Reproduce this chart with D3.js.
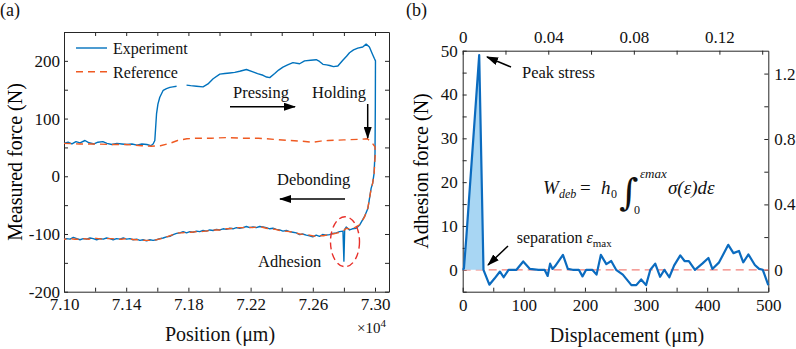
<!DOCTYPE html>
<html lang="en">
<head>
<meta charset="UTF-8">
<title>Measured force and adhesion force</title>
<script src="https://d3js.org/d3.v7.min.js"></script>
<style>
  body { margin: 0; background: #fff; }
  .axis path, .axis line { stroke: #262626; stroke-width: 1; }
  .axis text { font-family: "Liberation Serif", "Times New Roman", serif; font-size: 17px; fill: #111; }
</style>
</head>
<body>
<div id="chart"></div>
<script>

// ---- panel (a) data : position (um) vs measured force (N) ----
// experiment: pressing left->right, drop at max position, debonding right->left
const expPos = [71000, 71026, 71051, 71077, 71103, 71135, 71161, 71193, 71218, 71250, 71276, 71308, 71340, 71372,
  71404, 71437, 71469, 71501, 71533, 71558, 71573, 71584, 71595, 71604, 71616, 71638, 71659, 71681, 71700, 71724,
  71750, 71788, 71815, 71852, 71894, 71926, 71959, 72002, 72034, 72066, 72098, 72130, 72173, 72215, 72245, 72280,
  72303, 72323, 72355, 72380, 72408, 72438, 72472, 72515, 72547, 72586, 72622, 72643, 72665, 72688, 72708, 72733,
  72761, 72793, 72817, 72836, 72862, 72889, 72921, 72943, 72964, 72983, 72996, 73003,
  73002, 73000, 72994, 72985, 72975, 72954, 72932, 72900, 72879, 72855, 72836, 72815, 72805, 72800, 72794, 72772,
  72751, 72729, 72708, 72686, 72663, 72643, 72622, 72600, 72579, 72558, 72534, 72515, 72494, 72472, 72451, 72430,
  72408, 72387, 72366, 72344, 72323, 72301, 72280, 72258, 72237, 72215, 72194, 72173, 72151, 72130, 72109, 72087,
  72066, 72045, 72023, 72002, 71980, 71959, 71937, 71916, 71894, 71873, 71852, 71830, 71809, 71788, 71766, 71745,
  71724, 71702, 71681, 71659, 71638, 71616, 71595, 71573, 71552, 71531, 71509, 71488, 71467, 71445, 71424, 71403,
  71381, 71360, 71338, 71316, 71295, 71274, 71252, 71231, 71210, 71188, 71167, 71146, 71124, 71103, 71082, 71060,
  71039, 71017, 71000];
const expForce = [57, 59, 56, 60, 58, 62, 58, 56, 59, 60, 57, 55, 57, 56,
  55, 56, 54, 56, 55, 53, 56, 62, 108, 125, 137, 149, 152, 154, 155, 156,
  null, 158, 157, 156, 155, 160, 169, 177, 178, 179, 180, 182, 185, 181, 178, 175,
  172, 171, 178, 184, 189, 193, 197, 195, 200, 201, 202, 199, 194, 193, 192, 190,
  191, 201, 208, 214, 219, 222, 224, 229, 224, 212, 204, 200,
  120, 40, 5, -12, -21, -56, -70, -85, -90, -91, -93, -88, -92, -147, -95, -96,
  -98, -99, -101, -102, -101, -104, -102, -105, -103, -102, -100, -101, -98, -97, -96, -94,
  -95, -93, -92, -90, -91, -89, -88, -87, -89, -88, -89, -87, -89, -90, -89, -91,
  -90, -92, -91, -93, -92, -94, -93, -95, -94, -96, -95, -97, -96, -98, -96, -98,
  -99, -101, -104, -105, -107, -108, -110, -111, -110, -112, -110, -111, -109, -110, -108, -109,
  -107, -109, -108, -110, -108, -107, -109, -108, -110, -108, -107, -109, -108, -110, -108, -106,
  -109, -108, -109];

// reference curve (dashed)
const refPos = [71000, 71100, 71200, 71300, 71400, 71500, 71560, 71620, 71680, 71730, 71790, 71850, 71950, 72050,
  72150, 72250, 72350, 72450, 72520, 72600, 72650, 72700, 72800, 72900, 72950, 72975, 73000,
  73002, 72994, 72985, 72975, 72954, 72932, 72900, 72875, 72850, 72815, 72790, 72760, 72729, 72700, 72670, 72640,
  72610, 72580, 72550, 72515, 72480, 72450, 72420, 72390, 72360, 72330, 72300, 72270, 72240, 72210, 72180, 72150,
  72120, 72090, 72060, 72030, 72000, 71970, 71940, 71910, 71880, 71850, 71820, 71790, 71760, 71730, 71700, 71670,
  71640, 71610, 71580, 71550, 71520, 71490, 71460, 71430, 71400, 71370, 71340, 71310, 71280, 71250, 71220, 71190,
  71160, 71130, 71100, 71070, 71040, 71000];
const refForce = [57, 56, 56, 55, 55, 53, 52, 53, 57, 62, 65, 66, 66, 67,
  66, 66, 64, 62, 61, 59, 61, 62, 63, 64, 65, 60, 51,
  40, 4, -12, -22, -55, -71, -84, -88, -92, -90, -96, -98, -100, -101, -103, -103,
  -104, -102, -101, -100, -97, -96, -95, -94, -92, -91, -90, -88, -88, -89, -88, -89,
  -89, -90, -91, -91, -93, -93, -94, -95, -96, -96, -97, -97, -98, -98, -101, -104,
  -107, -109, -111, -111, -111, -110, -110, -109, -108, -109, -109, -108, -108, -109, -108, -107,
  -109, -108, -109, -109, -108, -109];

const xTicksA = d3.range(71000, 73001, 200);
const yTicksA = d3.range(-200, 251, 50);

// ---- panel (b) data : displacement (um) vs adhesion force (N) ----
const dispB = [0, 2, 6, 27, 34, 43.6, 52, 61, 67, 75, 88, 99, 110, 124, 134, 139, 143, 147, 151, 164, 172, 180, 190,
  196, 202, 212, 219, 226, 235, 243, 251, 262, 276, 284, 292, 300, 307, 315, 323, 330, 338, 346, 356, 363, 370, 380,
  392, 402, 408.5, 419.5, 434.5, 443, 452, 459, 467.5, 478, 485, 491, 500];
const forceB = [0, 0.3, 7.5, 49, 0, -3.4, -2, -0.4, -1.7, 0, 0, 1.9, 0.2, 0, 0, -1.4, 1.4, 0.2, 0.8, 3.4, 0.2, 0, 0,
  -1.5, 0, 0, -1.1, 3.4, 1.3, 2, 0, -1.1, -3.5, -3.5, -2.2, -3.5, 0, 1.4, -1.6, 0, -1.7, 1, 3.3, 2, 2, 0,
  1.4, 2.7, 0.2, 1.7, 5.7, 3.8, 4.3, 1.7, 3.5, 1.1, 0.2, 0, -3.5];
const sepDisp = 34;          // separation point, end of shaded work area
const h0 = 3500;             // um, strain = displacement / h0
const stressScale = 0.0268;  // right axis (stress) per newton

const xTicksB = d3.range(0, 501, 50);
const yTicksB = d3.range(-5, 51, 5);
const topTicksB = [0, 0.02, 0.04, 0.06, 0.08, 0.1, 0.12, 0.14];
const rightTicksB = [0, 0.2, 0.4, 0.6, 0.8, 1.0, 1.2];

const FONT = '"Liberation Serif", "Times New Roman", serif';

const svg = d3.select("#chart").append("svg")
  .attr("width", 796)
  .attr("height", 349)
  .attr("font-family", FONT);

svg.append("rect").attr("width", 796).attr("height", 349).attr("fill", "#fff");

const defs = svg.append("defs");
defs.append("marker")
  .attr("id", "head")
  .attr("viewBox", "0 0 12 8")
  .attr("refX", 11).attr("refY", 4)
  .attr("markerWidth", 12).attr("markerHeight", 8)
  .attr("markerUnits", "userSpaceOnUse")
  .attr("orient", "auto")
  .append("path").attr("d", "M0,0 L12,4 L0,8 Z").attr("fill", "#000");

const TICK = 4;

// draws a full box with inward ticks on all four sides
function boxAxes(x, y, xt, yt, opt) {
  const [x0, x1] = x.range();
  const [y0, y1] = y.range();
  svg.append("g").attr("class", "axis")
    .attr("transform", `translate(0,${y0})`)
    .call(d3.axisBottom(x).tickValues(xt).tickSize(-TICK).tickSizeOuter(0)
      .tickPadding(opt.xPad).tickFormat(opt.xFmt));
  svg.append("g").attr("class", "axis")
    .attr("transform", `translate(${x0},0)`)
    .call(d3.axisLeft(y).tickValues(yt).tickSize(-TICK).tickSizeOuter(0)
      .tickPadding(opt.yPad).tickFormat(opt.yFmt));
  if (opt.top) {
    svg.append("g").attr("class", "axis")
      .attr("transform", `translate(0,${y1})`)
      .call(d3.axisTop(opt.top.scale).tickValues(opt.top.ticks).tickSize(-TICK).tickSizeOuter(0)
        .tickPadding(8).tickFormat(opt.top.fmt));
  } else {
    svg.append("g").attr("class", "axis")
      .attr("transform", `translate(0,${y1})`)
      .call(d3.axisTop(x).tickValues(xt).tickSize(-TICK).tickSizeOuter(0).tickFormat(""));
  }
  if (opt.right) {
    svg.append("g").attr("class", "axis")
      .attr("transform", `translate(${x1},0)`)
      .call(d3.axisRight(opt.right.scale).tickValues(opt.right.ticks).tickSize(-TICK).tickSizeOuter(0)
        .tickPadding(6).tickFormat(opt.right.fmt));
  } else {
    svg.append("g").attr("class", "axis")
      .attr("transform", `translate(${x1},0)`)
      .call(d3.axisRight(y).tickValues(yt).tickSize(-TICK).tickSizeOuter(0).tickFormat(""));
  }
}

function label(x, y, txt, size, anchor) {
  return svg.append("text")
    .attr("x", x).attr("y", y)
    .attr("font-family", FONT)
    .attr("text-anchor", anchor || "start")
    .attr("fill", "#111")
    .style("font-size", size + "px")
    .text(txt);
}

function arrow(x1, y1, x2, y2) {
  svg.append("line")
    .attr("x1", x1).attr("y1", y1).attr("x2", x2).attr("y2", y2)
    .attr("stroke", "#000").attr("stroke-width", 1.5)
    .attr("marker-end", "url(#head)");
}

// ================= panel (a) =================
const xA = d3.scaleLinear().domain([71000, 73090]).range([64, 389]);
const yA = d3.scaleLinear().domain([-200, 250]).range([291.7, 32]);

boxAxes(xA, yA, xTicksA, yTicksA, {
  xPad: 6, yPad: 4,
  xFmt: d => (d - 71000) % 400 === 0 ? (d / 1e4).toFixed(2) : "",
  yFmt: d => d % 100 === 0 ? d : ""
});

const lineA = d3.line()
  .defined(d => d[1] !== null)
  .x(d => xA(d[0]))
  .y(d => yA(d[1]));

svg.append("path")
  .datum(expPos.map((p, i) => [p, expForce[i]]))
  .attr("d", lineA)
  .attr("fill", "none")
  .attr("stroke", "#0072BD")
  .attr("stroke-width", 1.4)
  .attr("stroke-linejoin", "round");

svg.append("path")
  .datum(refPos.map((p, i) => [p, refForce[i]]))
  .attr("d", lineA)
  .attr("fill", "none")
  .attr("stroke", "#EF5A22")
  .attr("stroke-width", 1.4)
  .attr("stroke-dasharray", "7,5");

// legend
svg.append("line").attr("x1", 76).attr("x2", 107).attr("y1", 48).attr("y2", 48)
  .attr("stroke", "#0072BD").attr("stroke-width", 1.4);
svg.append("line").attr("x1", 76).attr("x2", 107).attr("y1", 71.7).attr("y2", 71.7)
  .attr("stroke", "#EF5A22").attr("stroke-width", 1.4).attr("stroke-dasharray", "7,5");
label(113, 53.5, "Experiment", 16);
label(113, 77.5, "Reference", 16);

// annotations
label(233, 97.5, "Pressing", 16.5);
arrow(230, 106.7, 295, 106.7);
label(312, 97.5, "Holding", 16.5);
arrow(367.7, 104, 367.7, 138);
label(277, 184.5, "Debonding", 16.5);
arrow(345, 199, 280, 199);
label(258, 266.5, "Adhesion", 16.5);
svg.append("ellipse")
  .attr("cx", 345).attr("cy", 241.7).attr("rx", 14.5).attr("ry", 25)
  .attr("fill", "none").attr("stroke", "#E8302A").attr("stroke-width", 1.4)
  .attr("stroke-dasharray", "7,4");

// axis titles
label(220, 340.5, "Position (\u03bcm)", 20, "middle");
svg.append("text")
  .attr("transform", "translate(22,162) rotate(-90)")
  .attr("font-family", FONT)
  .attr("text-anchor", "middle")
  .style("font-size", "20px")
  .text("Measured force (N)");
const ex = label(357, 333, "\u00d710", 15);
ex.append("tspan").attr("dy", -6).style("font-size", "11px").text("4");
label(0, 16, "(a)", 18);

// ================= panel (b) =================
const xB = d3.scaleLinear().domain([0, 500]).range([462.7, 768.3]);
const yB = d3.scaleLinear().domain([-5, 50]).range([291.7, 50.7]);
const xTop = d3.scaleLinear().domain([0, 500 / h0]).range(xB.range());
const yRight = d3.scaleLinear().domain([-5 * stressScale, 50 * stressScale]).range(yB.range());

boxAxes(xB, yB, xTicksB, yTicksB, {
  xPad: 7, yPad: 5,
  xFmt: d => d % 100 === 0 ? d : "",
  yFmt: d => d % 10 === 0 ? d : "",
  top: {
    scale: xTop, ticks: topTicksB,
    fmt: d => Math.round(d * 100) % 4 === 0 ? (d === 0 ? "0" : d.toFixed(2)) : ""
  },
  right: {
    scale: yRight, ticks: rightTicksB,
    fmt: d => Math.round(d * 10) % 4 === 0 ? (d === 0 ? "0" : d.toFixed(1)) : ""
  }
});

const ptsB = dispB.map((d, i) => [d, forceB[i]]);

// zero reference line
svg.append("line")
  .attr("x1", xB(0)).attr("x2", xB(500)).attr("y1", yB(0)).attr("y2", yB(0))
  .attr("stroke", "#F2807A").attr("stroke-width", 1.2).attr("stroke-dasharray", "8,5");

// shaded work of debonding
svg.append("path")
  .datum(ptsB.filter(d => d[0] <= sepDisp))
  .attr("d", d3.area().x(d => xB(d[0])).y0(yB(0)).y1(d => yB(d[1])))
  .attr("fill", "#A8D6F3");

svg.append("path")
  .datum(ptsB)
  .attr("d", d3.line().x(d => xB(d[0])).y(d => yB(d[1])))
  .attr("fill", "none")
  .attr("stroke", "#0B6BBF")
  .attr("stroke-width", 2.2)
  .attr("stroke-linejoin", "round");

// annotations
label(522, 78, "Peak stress", 16.5);
arrow(511, 67, 487, 57);
const sep = label(516.7, 243.3, "separation ", 16);
sep.append("tspan").style("font-style", "italic").text("\u03b5");
sep.append("tspan").attr("dy", 4).style("font-size", "11px").text("max");
arrow(508, 246, 488, 265);

// W_deb formula
const it = (x, y, t, s, italic) => label(x, y, t, s).style("font-style", italic ? "italic" : "normal");
it(543, 194, "W", 19, true);
it(559, 198, "deb", 12, true);
it(580, 194, "=", 19, false);
it(601, 194, "h", 19, true);
it(611, 198, "0", 12, false);
it(619, 205, "\u222b", 37, true).attr("font-family", "DejaVu Serif, serif");
it(640, 178, "\u03b5max", 13, true);
it(634, 214, "0", 12, false);
it(668, 194, "\u03c3(\u03b5)d\u03b5", 19, true);

// axis titles
label(627, 341.5, "Displacement (\u03bcm)", 20, "middle");
svg.append("text")
  .attr("transform", "translate(428,171) rotate(-90)")
  .attr("font-family", FONT)
  .attr("text-anchor", "middle")
  .style("font-size", "20px")
  .text("Adhesion force (N)");
label(406, 16, "(b)", 18);

</script>
</body>
</html>
